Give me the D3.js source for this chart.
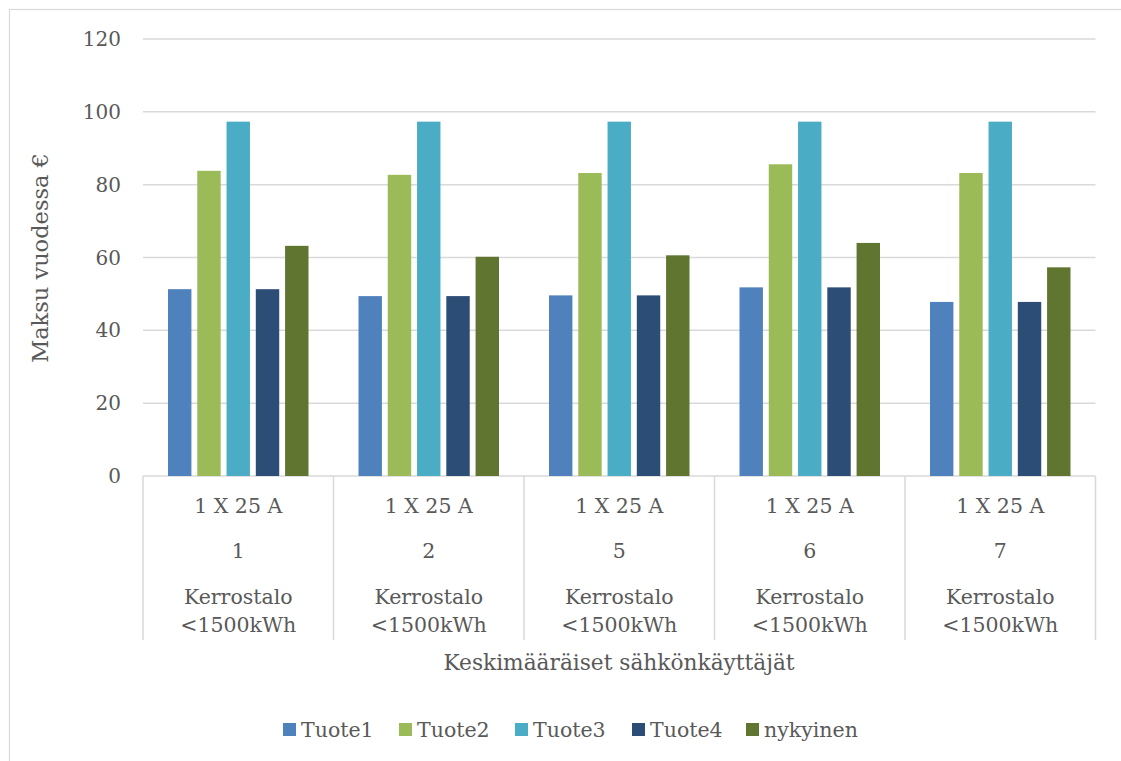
<!DOCTYPE html>
<html>
<head>
<meta charset="utf-8">
<script src="https://cdn.jsdelivr.net/npm/d3@7"></script>
<style>
  body { margin: 0; background: #fff; }
  svg { display: block; }
</style>
</head>
<body>
<svg id="chart" width="1121" height="761"></svg>
<script>
// data
const groups = ['1', '2', '5', '6', '7'];
const seriesNames = ['Tuote1', 'Tuote2', 'Tuote3', 'Tuote4', 'nykyinen'];
const tuote1 = [51.3, 49.4, 49.6, 51.8, 47.8];
const tuote2 = [83.8, 82.7, 83.2, 85.6, 83.2];
const tuote3 = [97.3, 97.3, 97.3, 97.3, 97.3];
const tuote4 = [51.3, 49.4, 49.6, 51.8, 47.8];
const nykyinen = [63.2, 60.2, 60.6, 64.0, 57.3];
const yTicks = [0, 20, 40, 60, 80, 100, 120];
const labelTop = '1 X 25 A';
const labelBottom = ['Kerrostalo', '<1500kWh'];

(function () {
  const colors = ['#4f81bd', '#9bbb59', '#4bacc6', '#2c4d75', '#5f7530'];
  const values = [tuote1, tuote2, tuote3, tuote4, nykyinen];

  const font = '"DejaVu Serif", "Liberation Serif", serif';
  const textCol = '#595959', gridCol = '#d9d9d9';

  const svg = d3.select('#chart');
  const pl = 143, pr = 1095.5, pt = 39, pb = 476;

  // outer frame
  svg.append('rect').attr('x', 9.5).attr('y', 9.5).attr('width', 1130).attr('height', 760)
    .attr('fill', 'none').attr('stroke', gridCol).attr('stroke-width', 1.2);

  const y = d3.scaleLinear().domain([0, 120]).range([pb, pt]);
  const x0 = d3.scaleBand().domain(groups).range([pl, pr]);
  const x1 = d3.scaleBand().domain(seriesNames).range([25, x0.bandwidth() - 25]).paddingInner(0.2);

  // gridlines + tick labels
  const yAxis = svg.append('g');
  yTicks.forEach(t => {
    yAxis.append('line').attr('x1', pl).attr('x2', pr).attr('y1', y(t)).attr('y2', y(t))
      .attr('stroke', gridCol).attr('stroke-width', 1.5);
    yAxis.append('text').attr('x', 121).attr('y', y(t) + 7)
      .attr('text-anchor', 'end').attr('font-family', font).attr('font-size', 20)
      .attr('fill', textCol).text(t);
  });

  // bars
  seriesNames.forEach((s, si) => {
    svg.append('g').selectAll('rect').data(values[si]).join('rect')
      .attr('x', (d, i) => x0(groups[i]) + x1(s))
      .attr('y', d => y(d))
      .attr('width', x1.bandwidth())
      .attr('height', d => y(0) - y(d))
      .attr('fill', colors[si]);
  });

  // category separators
  const cats = svg.append('g');
  groups.map(g => x0(g)).concat([pr]).forEach(xx => {
    cats.append('line').attr('x1', xx).attr('x2', xx).attr('y1', pb).attr('y2', 640)
      .attr('stroke', gridCol).attr('stroke-width', 1.5);
  });

  // category labels
  groups.forEach(g => {
    const cx = x0(g) + x0.bandwidth() / 2;
    const t = (txt, yy) => cats.append('text').attr('x', cx).attr('y', yy)
      .attr('text-anchor', 'middle').attr('font-family', font).attr('font-size', 20.5)
      .attr('fill', textCol).text(txt);
    t(labelTop, 513);
    t(g, 558);
    t(labelBottom[0], 604);
    t(labelBottom[1], 632);
  });

  // axis titles
  svg.append('text').attr('x', 619).attr('y', 670).attr('text-anchor', 'middle')
    .attr('font-family', font).attr('font-size', 21.7).attr('fill', textCol)
    .text('Keskimääräiset sähkönkäyttäjät');
  svg.append('text').attr('transform', 'translate(48,258) rotate(-90)').attr('text-anchor', 'middle')
    .attr('font-family', font).attr('font-size', 22.5).attr('fill', textCol)
    .text('Maksu vuodessa €');

  // legend
  const legendX = [283, 399, 515, 632, 746];
  const legend = svg.append('g');
  seriesNames.forEach((s, i) => {
    legend.append('rect').attr('x', legendX[i]).attr('y', 723).attr('width', 13).attr('height', 13)
      .attr('fill', colors[i]);
    legend.append('text').attr('x', legendX[i] + 18).attr('y', 737)
      .attr('font-family', font).attr('font-size', 20.5).attr('fill', textCol).text(s);
  });
})();
</script>
</body>
</html>
